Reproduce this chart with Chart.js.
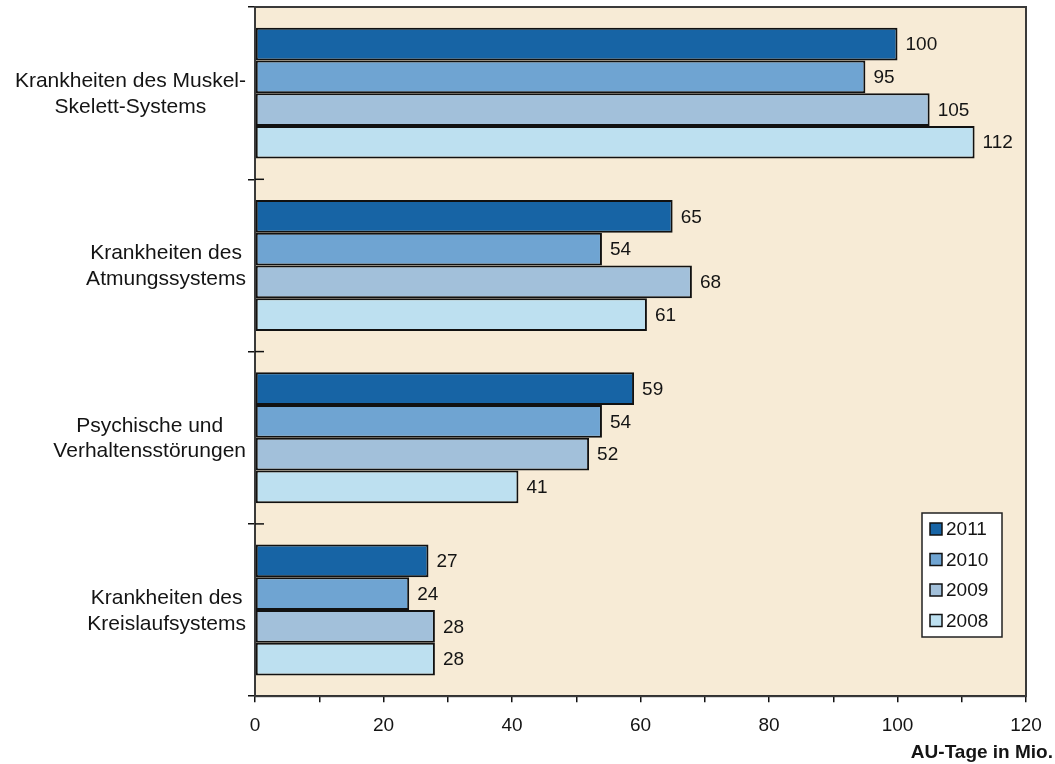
<!DOCTYPE html>
<html>
<head>
<meta charset="utf-8">
<script src="https://cdn.jsdelivr.net/npm/chart.js@4"></script>
<style>
  html, body { margin: 0; padding: 0; background: #ffffff; }
  #wrap { width: 1055px; height: 764px; position: relative; }
</style>
</head>
<body>
<div id="wrap"><canvas id="auChart" width="1055" height="764"></canvas></div>
<script>
const categories = [
    ['Krankheiten des Muskel-', 'Skelett-Systems'],
    ['Krankheiten des', 'Atmungssystems'],
    ['Psychische und', 'Verhaltensstörungen'],
    ['Krankheiten des', 'Kreislaufsystems']
];
const years = ['2011', '2010', '2009', '2008'];
const values2011 = [100, 65, 59, 27];
const values2010 = [95, 54, 54, 24];
const values2009 = [105, 68, 52, 28];
const values2008 = [112, 61, 41, 28];
const xTicks = [0, 20, 40, 60, 80, 100, 120];
const axisTitle = 'AU-Tage in Mio.';

const colors = ['#1764a5', '#6fa4d2', '#a2c0da', '#bde0f0'];
const textColor = '#141414';
const fontFamily = '"Liberation Sans", Arial, sans-serif';

// beige plot background + frame
const plotBackground = {
    id: 'plotBackground',
    beforeDraw(chart) {
        const { ctx, chartArea: a } = chart;
        ctx.save();
        ctx.fillStyle = '#f7ebd6';
        ctx.fillRect(a.left, a.top, a.right - a.left, a.bottom - a.top);
        ctx.restore();
    },
    afterDatasetsDraw(chart) {
        const { ctx, chartArea: a } = chart;
        ctx.save();
        ctx.strokeStyle = '#3a3a3a';
        ctx.lineWidth = 2;
        ctx.strokeRect(a.left, a.top, a.right - a.left, a.bottom - a.top);
        // tick marks crossing into the plot at category boundaries
        const y = chart.scales.y;
        ctx.strokeStyle = '#111';
        ctx.lineWidth = 1.5;
        for (let i = 0; i < categories.length - 1; i++) {
            const py = (y.getPixelForValue(i) + y.getPixelForValue(i + 1)) / 2;
            ctx.beginPath();
            ctx.moveTo(a.left, py);
            ctx.lineTo(a.left + 9, py);
            ctx.stroke();
        }
        ctx.restore();
    }
};

// category labels: block right aligned, lines centered inside block
const categoryLabels = {
    id: 'categoryLabels',
    afterDraw(chart) {
        const { ctx } = chart;
        const y = chart.scales.y;
        ctx.save();
        ctx.font = '21px ' + fontFamily;
        ctx.fillStyle = textColor;
        ctx.textAlign = 'center';
        ctx.textBaseline = 'middle';
        const right = 246;
        const lineGap = 25.5;
        categories.forEach((lines, i) => {
            const w = Math.max(...lines.map(l => ctx.measureText(l).width));
            const cx = right - w / 2;
            const cy = y.getPixelForValue(i) + 1;
            lines.forEach((l, k) => {
                ctx.fillText(l, cx, cy + (k - (lines.length - 1) / 2) * lineGap);
            });
        });
        ctx.restore();
    }
};

// value labels at bar ends
const valueLabels = {
    id: 'valueLabels',
    afterDatasetsDraw(chart) {
        const { ctx } = chart;
        ctx.save();
        ctx.font = '19px ' + fontFamily;
        ctx.fillStyle = textColor;
        ctx.textAlign = 'left';
        ctx.textBaseline = 'middle';
        chart.data.datasets.forEach((ds, di) => {
            chart.getDatasetMeta(di).data.forEach((bar, i) => {
                ctx.fillText(String(ds.data[i]), bar.x + 8, bar.y + 1);
            });
        });
        ctx.restore();
    }
};

// legend box inside plot, bottom right
const boxLegend = {
    id: 'boxLegend',
    afterDraw(chart) {
        const { ctx } = chart;
        const left = 922, top = 513, width = 80, height = 124;
        ctx.save();
        ctx.fillStyle = '#ffffff';
        ctx.fillRect(left, top, width, height);
        ctx.strokeStyle = '#222';
        ctx.lineWidth = 1.5;
        ctx.strokeRect(left, top, width, height);
        ctx.font = '19px ' + fontFamily;
        ctx.textBaseline = 'middle';
        chart.data.datasets.forEach((ds, i) => {
            const cy = top + 16 + i * 30.5;
            ctx.fillStyle = ds.backgroundColor;
            ctx.fillRect(930, cy - 6, 12, 12);
            ctx.strokeStyle = '#111';
            ctx.lineWidth = 1.5;
            ctx.strokeRect(930, cy - 6, 12, 12);
            ctx.fillStyle = textColor;
            ctx.fillText(ds.label, 946, cy + 1);
        });
        ctx.restore();
    }
};

// x axis caption under the right end
const axisCaption = {
    id: 'axisCaption',
    afterDraw(chart) {
        const { ctx } = chart;
        ctx.save();
        ctx.font = 'bold 19px ' + fontFamily;
        ctx.fillStyle = textColor;
        ctx.textAlign = 'right';
        ctx.textBaseline = 'middle';
        ctx.fillText(axisTitle, 1053, 753);
        ctx.restore();
    }
};

const seriesValues = [values2011, values2010, values2009, values2008];

const ctx = document.getElementById('auChart').getContext('2d');
const chart = new Chart(ctx, {
    type: 'bar',
    data: {
        labels: categories.map(c => c.join(' ')),
        datasets: years.map((yr, i) => ({
            label: yr,
            data: seriesValues[i],
            backgroundColor: colors[i],
            borderColor: '#111111',
            borderWidth: 2,
            borderSkipped: false,
            barPercentage: 1.0,
            categoryPercentage: 0.76
        }))
    },
    options: {
        indexAxis: 'y',
        responsive: false,
        animation: false,
        devicePixelRatio: 1,
        layout: { padding: { left: 248, right: 29, top: 7, bottom: 15 } },
        plugins: {
            legend: { display: false },
            tooltip: { enabled: false }
        },
        scales: {
            x: {
                min: 0,
                max: 120,
                ticks: {
                    stepSize: 10,
                    color: textColor,
                    font: { family: fontFamily, size: 19 },
                    padding: 12,
                    maxRotation: 0,
                    autoSkip: false,
                    callback: v => (xTicks.includes(v) ? String(v) : '')
                },
                grid: {
                    drawOnChartArea: false,
                    drawTicks: true,
                    tickLength: 6,
                    color: '#111',
                    lineWidth: 1.5
                },
                border: { color: '#111', width: 2 }
            },
            y: {
                ticks: { display: false },
                grid: {
                    offset: true,
                    drawOnChartArea: false,
                    drawTicks: true,
                    tickLength: 7,
                    color: '#111',
                    lineWidth: 1.5
                },
                border: { color: '#111', width: 2 }
            }
        }
    },
    plugins: [plotBackground, categoryLabels, valueLabels, boxLegend, axisCaption]
});
</script>
</body>
</html>
